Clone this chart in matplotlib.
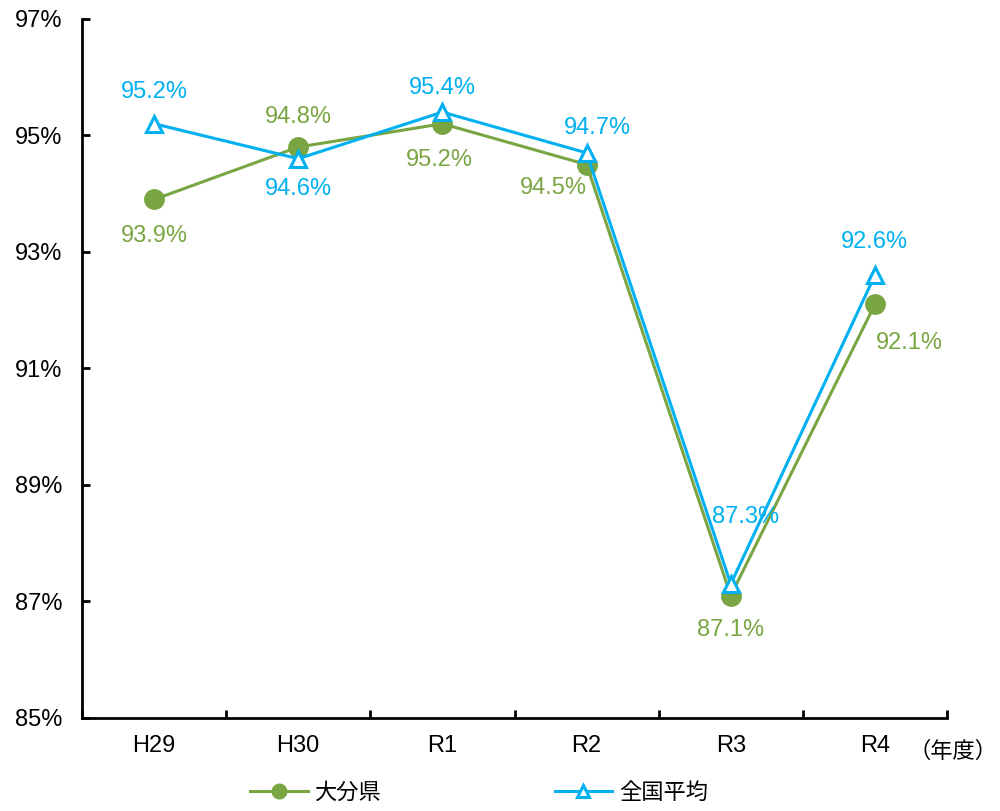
import matplotlib.pyplot as plt
import numpy as np

plt.rcParams['font.family'] = ['Liberation Sans', 'Noto Sans CJK JP']

years = ["H29", "H30", "R1", "R2", "R3", "R4"]
oita = [93.9, 94.8, 95.2, 94.5, 87.1, 92.1]
zenkoku = [95.2, 94.6, 95.4, 94.7, 87.3, 92.6]
yticks = [85, 87, 89, 91, 93, 95, 97]

# label offsets (points) for each value label
oita_off = [(0, -26), (0, 22), (-2, -26), (-24, -17), (0, -25), (25, -28)]
zen_off = [(0, 23), (0, -22), (0, 17), (8, 18), (11, 48), (0, 24)]

green = "#7AA543"
blue = "#00B0F0"

fig = plt.figure(figsize=(10, 8.11), dpi=100)
ax = fig.add_axes([0.082, 0.1147, 0.865, 0.862])

x = np.arange(len(years))
ax.plot(x, oita, color=green, lw=2.2, marker="o", ms=14, label="大分県", zorder=3)
ax.plot(x, zenkoku, color=blue, lw=2.2, marker="^", ms=11, mfc="white",
        mew=2.2, label="全国平均", zorder=4)

for i in range(len(years)):
    ax.annotate(f"{oita[i]:.1f}%", (x[i], oita[i]), xytext=oita_off[i],
                textcoords="offset points", ha="center", va="center",
                color=green, fontsize=17)
    ax.annotate(f"{zenkoku[i]:.1f}%", (x[i], zenkoku[i]), xytext=zen_off[i],
                textcoords="offset points", ha="center", va="center",
                color=blue, fontsize=17)

ax.set_xlim(-0.5, len(years) - 0.5)
ax.set_ylim(85, 97)
ax.set_yticks(yticks)
ax.set_yticklabels([f"{v}%" for v in yticks], fontsize=17)
ax.set_xticks(x)
ax.set_xticklabels(years, fontsize=17)
ax.set_xticks(np.arange(len(years) + 1) - 0.5, minor=True)
ax.tick_params(axis="x", which="major", length=0, pad=12)
ax.tick_params(axis="x", which="minor", direction="in", length=6, width=2)
ax.tick_params(axis="y", direction="in", length=6, width=2, pad=14)
for s in ["top", "right"]:
    ax.spines[s].set_visible(False)
for s in ["left", "bottom"]:
    ax.spines[s].set_linewidth(2)

fig.text(0.998, 0.072, "（年度）", fontsize=16, ha="right", va="center")
fig.legend(loc="center", bbox_to_anchor=(0.479, 0.022), ncol=2, frameon=False,
           fontsize=16, columnspacing=7.8, handlelength=2.6, handletextpad=0.3,
           markerscale=0.75)

fig.savefig("out.png", dpi=100)
